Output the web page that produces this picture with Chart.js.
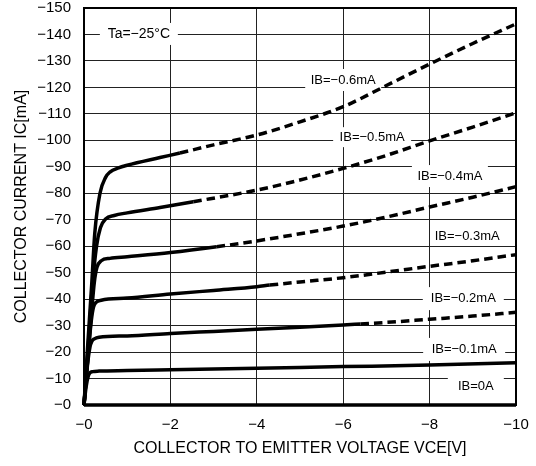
<!DOCTYPE html>
<html>
<head>
<meta charset="utf-8">
<script src="https://cdn.jsdelivr.net/npm/chart.js@4"></script>
<style>
  html, body { margin: 0; padding: 0; background: #fff; }
</style>
</head>
<body>
<canvas id="icChart" width="536" height="466"></canvas>
<script>
const FONT = "'Liberation Sans', Arial, sans-serif";

// Collector current vs VCE, one curve per base current (PNP, so all negative)
const curveNames = ['IB=−0.6mA', 'IB=−0.5mA', 'IB=−0.4mA', 'IB=−0.3mA', 'IB=−0.2mA', 'IB=−0.1mA', 'IB=0A'];

const vceB6 = [0, -0.08, -0.18, -0.25, -0.37, -0.5, -0.6, -0.8, -1, -1.76, -2.22, -3, -4, -5, -6, -7, -8, -9, -10];
const icB6  = [0, -21, -46, -65, -80, -86, -88, -89.6, -90.6, -93.5, -95.2, -98.3, -102, -107, -112.7, -120.7, -128.8, -136.6, -144];

const vceB5 = [0, -0.1, -0.2, -0.29, -0.38, -0.5, -0.7, -1, -1.76, -2.53, -4, -5, -6, -7, -8, -9, -10];
const icB5  = [0, -23, -46, -60, -67, -70.3, -71.6, -72.6, -74.6, -76.8, -81.2, -85, -89.4, -94.3, -99.8, -105, -110.4];

const vceB4 = [0, -0.1, -0.18, -0.24, -0.3, -0.4, -0.6, -1, -2, -3.07, -4, -5, -6, -7, -8, -9, -10];
const icB4  = [0, -20, -36, -46.5, -52, -54.5, -55.4, -56, -57.6, -59.8, -62, -64.7, -67.6, -71, -74.8, -78.5, -82.5];

const vceB3 = [0, -0.1, -0.17, -0.22, -0.28, -0.4, -1, -2, -3, -4, -4.3, -5, -6, -7, -8, -9, -10];
const icB3  = [0, -20, -32, -37, -38.8, -39.6, -40.4, -41.9, -43.3, -44.7, -45.3, -46.5, -48.1, -50.2, -52.4, -54.5, -56.8];

const vceB2 = [0, -0.08, -0.14, -0.18, -0.24, -0.35, -1, -2, -3, -4, -5, -6, -6.4, -7, -8, -9, -10];
const icB2  = [0, -15, -22, -24, -25, -25.6, -26.1, -27, -27.8, -28.6, -29.4, -30.2, -30.6, -31.2, -32.4, -33.6, -35];

const vceB1 = [0, -0.05, -0.1, -0.14, -0.2, -0.35, -1, -2, -4, -6, -8, -10];
const icB1  = [0, -7, -11, -12.2, -12.6, -12.8, -13, -13.3, -13.9, -14.5, -15.1, -16];

const vceB0 = [0, -10];
const icB0  = [0, 0];

// measured range of each curve (|VCE|); beyond it the curve is dashed
const measuredTo = [2.22, 2.53, 3.07, 4.3, 6.4, 10, 10];

const vceTicks = [0, -2, -4, -6, -8, -10];
const icTicks = [0, -10, -20, -30, -40, -50, -60, -70, -80, -90, -100, -110, -120, -130, -140, -150];

const vceSets = [vceB6, vceB5, vceB4, vceB3, vceB2, vceB1, vceB0];
const icSets = [icB6, icB5, icB4, icB3, icB2, icB1, icB0];

// boxed captions placed in data coordinates
const notes = [
  { text: 'Ta=−25°C',  v: -1.27, i: -140.2, w: 78, h: 22, size: 14 },
  { text: 'IB=−0.6mA', v: -6.0,  i: -122.8, w: 76, h: 22, size: 13 },
  { text: 'IB=−0.5mA', v: -6.67, i: -101.2, w: 78, h: 20, size: 13 },
  { text: 'IB=−0.4mA', v: -8.47, i: -86.5,  w: 76, h: 22, size: 13 },
  { text: 'IB=−0.3mA', v: -8.87, i: -63.8,  w: 68, h: 18, size: 13 },
  { text: 'IB=−0.2mA', v: -8.78, i: -40.2,  w: 81, h: 23, size: 13 },
  { text: 'IB=−0.1mA', v: -8.8,  i: -21,    w: 82, h: 23, size: 13 },
  { text: 'IB=0A',     v: -9.07, i: -7,     w: 56, h: 23, size: 13 }
];

const minus = v => '−' + Math.abs(v);

const boxLabels = {
  id: 'boxLabels',
  beforeDatasetsDraw(chart) {
    const { ctx, scales: { x, y } } = chart;
    ctx.save();
    ctx.textAlign = 'center';
    ctx.textBaseline = 'middle';
    notes.forEach(n => {
      const px = x.getPixelForValue(n.v);
      const py = y.getPixelForValue(n.i);
      ctx.fillStyle = '#fff';
      ctx.fillRect(px - n.w / 2, py - n.h / 2, n.w, n.h);
      ctx.font = n.size + 'px ' + FONT;
      ctx.fillStyle = '#000';
      ctx.fillText(n.text, px, py);
    });
    ctx.restore();
  }
};

const frame = {
  id: 'frame',
  afterDatasetsDraw(chart) {
    const { ctx, chartArea: a } = chart;
    ctx.save();
    ctx.strokeStyle = '#000';
    ctx.lineWidth = 2;
    ctx.strokeRect(a.left, a.top, a.right - a.left, a.bottom - a.top);
    ctx.restore();
  }
};

const datasets = curveNames.map((name, k) => ({
  label: name,
  data: vceSets[k].map((v, j) => ({ x: v, y: icSets[k][j] })),
  borderColor: '#000',
  borderWidth: 3.5,
  pointRadius: 0,
  fill: false,
  cubicInterpolationMode: 'monotone',
  clip: k === curveNames.length - 1 ? false : 4,
  segment: {
    borderDash: ctx => (-ctx.p0.parsed.x >= measuredTo[k] - 1e-6 ? [8.5, 5] : undefined)
  }
}));

new Chart(document.getElementById('icChart'), {
  type: 'line',
  data: { datasets },
  plugins: [boxLabels, frame],
  options: {
    responsive: false,
    animation: false,
    layout: { padding: { top: 8, right: 20, left: 0, bottom: 0 } },
    plugins: { legend: { display: false }, tooltip: { enabled: false } },
    scales: {
      x: {
        type: 'linear',
        min: -10,
        max: 0,
        reverse: true,
        afterFit: s => { s.height = 61; s.paddingLeft = 0; s.paddingRight = 0; },
        afterBuildTicks: s => { s.ticks = vceTicks.map(v => ({ value: v })); },
        grid: { color: '#222', lineWidth: 1, drawTicks: false },
        border: { display: false },
        ticks: { callback: minus, padding: 11, color: '#000', font: { family: FONT, size: 15 }, maxRotation: 0 },
        title: {
          display: true,
          text: 'COLLECTOR TO EMITTER VOLTAGE VCE[V]',
          color: '#000',
          font: { family: FONT, size: 16 },
          padding: { top: 0, bottom: 8 }
        }
      },
      y: {
        type: 'linear',
        min: -150,
        max: 0,
        reverse: true,
        afterFit: s => { s.width = 84; s.paddingTop = 0; s.paddingBottom = 0; },
        afterBuildTicks: s => { s.ticks = icTicks.map(v => ({ value: v })); },
        grid: { color: '#222', lineWidth: 1, drawTicks: false },
        border: { display: false },
        ticks: { callback: minus, padding: 13, color: '#000', font: { family: FONT, size: 15 } },
        title: {
          display: true,
          text: 'COLLECTOR CURRENT IC[mA]',
          color: '#000',
          font: { family: FONT, size: 16 },
          padding: { top: 12, bottom: 0 }
        }
      }
    }
  }
});
</script>
</body>
</html>
